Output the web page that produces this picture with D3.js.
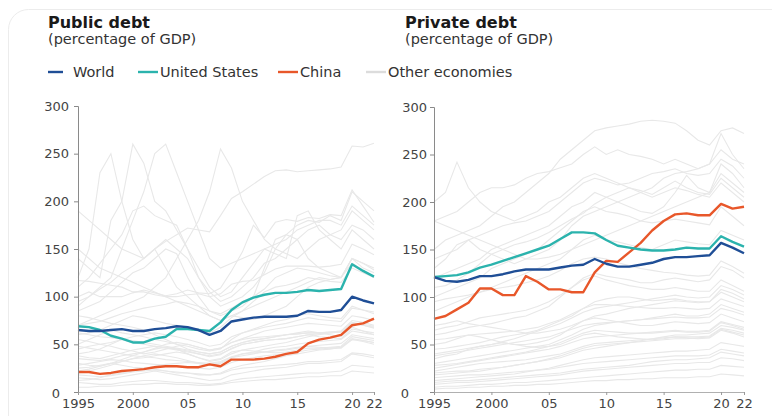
<!DOCTYPE html>
<html><head><meta charset="utf-8">
<script src="https://cdn.jsdelivr.net/npm/d3@7"></script>
<style>
html,body{margin:0;padding:0;background:#fff;}
svg{display:block;font-family:"DejaVu Sans",sans-serif;}
</style></head>
<body><svg id="c" width="772" height="416"></svg>
<script>
const years = [1995,1996,1997,1998,1999,2000,2001,2002,2003,2004,2005,2006,2007,2008,2009,2010,2011,2012,2013,2014,2015,2016,2017,2018,2019,2020,2021,2022];
const xTickYears = [1995,2000,2005,2010,2015,2020,2022];
const xTickLabels = ["1995","2000","05","10","15","20","22"];
const yTicks = [0,50,100,150,200,250,300];

const publicWorld = [65,64,64,65,66,64,64,66,67,69,68,65,60,64,74,76,78,79,79,79,80,85,84,84,86,100,96,93];
const publicUS    = [69,68,65,59,56,52,52,56,58,66,66,65,64,73,86,94,99,102,104,104,105,107,106,107,108,134,127,121];
const publicChina = [21,21,19,20,22,23,24,26,27,27,26,26,29,27,34,34,34,35,37,40,42,51,55,57,60,70,72,77];

const privateWorld = [121,117,116,118,122,122,124,127,129,129,129,131,133,134,140,135,132,132,134,136,140,142,142,143,144,157,152,146];
const privateUS    = [121,122,123,126,131,134,138,142,146,150,154,161,168,168,167,160,154,152,150,149,149,150,152,151,151,164,158,153];
const privateChina = [77,80,87,94,109,109,102,102,122,116,108,108,105,105,126,138,137,147,157,170,180,187,188,186,186,198,193,195];

const publicOthers = [
 [95,100,108,115,125,132,140,150,158,165,172,170,168,185,203,210,218,226,232,233,231,232,233,234,236,258,257,261],
 [120,150,230,250,200,160,140,150,130,110,100,90,80,75,80,85,90,95,100,105,110,115,120,118,120,140,130,125],
 [140,130,120,180,200,260,240,200,190,170,150,120,100,90,95,100,110,125,150,165,175,180,178,185,180,210,200,190],
 [90,100,110,120,150,180,210,250,260,230,200,170,140,130,135,140,145,150,155,160,170,175,180,180,175,195,185,175],
 [70,75,80,85,90,95,100,110,120,140,160,180,210,255,235,200,180,160,150,145,140,150,160,165,170,190,180,170],
 [100,105,100,100,100,104,107,104,101,103,107,104,103,109,127,147,175,162,178,181,179,183,182,186,185,212,195,178],
 [117,116,114,112,110,105,105,102,100,100,102,103,100,103,113,116,117,123,129,132,132,132,131,132,134,155,150,144],
 [60,62,65,70,75,80,78,75,72,70,68,65,62,68,78,85,95,105,110,112,115,120,118,116,115,130,125,120],
 [45,48,50,52,55,58,60,62,60,58,55,52,48,50,58,62,65,68,70,72,75,78,76,75,74,88,86,84],
 [30,28,27,30,32,35,36,38,40,42,40,36,32,34,40,44,46,48,50,52,55,58,60,62,63,72,70,68],
 [15,14,13,14,16,18,20,22,20,18,16,14,12,13,18,20,22,24,25,26,28,30,30,31,32,40,38,36],
 [80,78,75,72,70,68,65,60,55,50,45,42,40,42,48,52,55,56,58,60,62,64,62,60,58,68,64,60],
 [150,140,130,125,120,115,110,105,100,95,90,85,80,75,80,78,76,80,85,90,100,110,115,118,120,135,128,120],
 [110,120,135,150,165,190,195,185,180,175,150,130,110,100,105,120,135,150,145,140,185,190,170,160,150,170,160,150],
 [40,42,45,50,55,52,50,48,46,44,42,40,38,40,45,50,52,54,55,56,58,60,58,57,56,66,64,62],
 [55,53,50,48,45,43,40,42,45,48,50,47,44,46,52,56,60,64,66,68,70,72,71,70,69,80,78,75],
 [25,26,28,30,28,26,25,24,22,20,20,18,18,20,25,28,30,32,35,38,40,42,44,45,47,55,54,52],
 [70,72,74,78,82,85,88,90,92,95,93,90,85,82,88,95,100,108,120,125,130,128,125,122,120,140,135,130],
 [35,34,33,35,38,40,42,45,47,45,40,36,33,35,42,44,43,42,41,42,44,46,46,47,48,58,56,54],
 [10,9,8,8,10,11,12,12,11,10,10,9,8,9,12,14,15,16,17,18,19,20,20,21,22,28,27,26],
 [85,90,95,105,115,125,130,140,150,145,120,100,85,80,85,90,100,130,160,165,160,140,130,125,120,140,135,128],
 [50,55,60,65,62,60,58,55,53,50,48,45,43,45,55,62,66,70,74,76,80,82,80,78,77,90,86,82],
 [190,180,170,160,150,145,140,150,160,150,140,120,105,95,100,110,120,135,140,150,160,170,175,165,160,175,170,160],
 [20,22,25,28,32,35,38,40,38,36,33,30,28,30,36,40,42,45,47,48,50,52,53,54,55,64,62,60],
 [5,5,6,6,7,8,8,9,9,8,8,7,7,8,10,11,12,13,13,14,15,16,16,17,17,22,21,20],
 [18,17,16,17,19,21,22,23,22,21,20,19,18,19,23,25,26,27,28,29,30,32,32,33,34,41,40,38],
 [28,30,32,34,33,31,30,29,28,27,26,25,24,26,31,34,36,38,39,40,42,44,45,46,47,56,54,52],
 [38,36,35,38,41,44,46,48,47,45,43,40,37,39,46,50,52,54,55,56,58,60,61,62,63,72,70,67],
 [12,13,15,18,20,22,25,27,29,30,31,30,29,31,36,38,40,42,44,45,47,48,49,50,51,60,58,56],
 [48,46,44,42,40,38,37,36,34,33,32,31,30,32,37,40,41,42,43,44,46,48,47,46,46,55,53,50],
 [62,60,58,57,55,54,52,50,48,46,44,42,40,42,48,52,54,56,58,60,61,62,62,63,64,75,73,70],
 [22,24,27,30,34,38,42,46,50,52,50,47,44,46,52,55,57,58,59,60,61,62,62,63,64,73,71,69]
];

const privateOthers = [
 [150,160,165,170,175,185,195,200,210,220,230,245,255,265,275,278,280,282,285,286,285,283,275,265,260,275,278,272],
 [200,210,242,215,200,190,185,180,185,190,200,205,215,225,230,225,220,215,210,205,210,215,212,208,205,220,210,200],
 [180,185,190,200,210,215,215,218,225,230,232,236,240,250,258,250,255,250,248,245,240,245,240,235,240,255,245,240],
 [140,145,150,160,165,170,175,178,180,185,190,200,210,220,225,222,218,220,225,230,232,235,230,228,230,245,238,225],
 [120,125,130,135,140,150,155,160,165,170,175,185,195,200,210,205,200,195,190,188,195,210,228,215,210,240,230,215],
 [100,105,110,115,120,130,135,140,145,150,160,170,180,190,195,190,188,185,180,178,180,182,180,178,176,195,185,175],
 [180,175,170,165,160,155,150,145,140,140,142,145,150,155,160,165,170,175,180,185,190,195,200,205,210,230,220,210],
 [85,90,95,100,105,110,115,120,125,130,135,140,150,160,165,160,158,155,152,150,155,160,158,156,155,170,165,160],
 [60,62,65,68,70,72,75,78,80,85,90,100,110,120,125,122,120,118,115,115,118,120,118,116,118,132,128,120],
 [45,46,48,50,52,55,58,60,62,65,70,75,80,88,95,98,100,100,98,96,97,98,96,95,95,108,104,98],
 [30,32,34,36,38,40,42,44,46,48,50,55,60,66,70,72,74,75,76,78,80,82,80,80,82,92,88,84],
 [20,21,22,22,24,25,26,28,30,32,34,36,40,44,46,48,50,52,54,56,58,60,60,61,62,70,68,65],
 [10,11,12,12,13,14,15,16,17,18,19,20,22,24,25,26,27,28,30,32,33,34,34,35,36,42,40,38],
 [70,72,75,72,70,68,66,64,62,62,64,66,70,75,80,82,85,88,90,92,94,96,95,94,95,105,100,95],
 [35,38,40,45,48,50,52,50,48,47,48,50,55,60,62,60,58,57,56,55,56,58,57,56,57,65,62,58],
 [130,140,155,160,150,145,140,135,140,145,150,160,175,185,190,195,200,205,210,215,225,230,232,235,240,272,250,235],
 [95,98,100,102,105,108,110,112,115,118,122,128,135,140,142,140,136,133,130,128,126,125,123,122,123,138,132,125],
 [5,6,6,7,8,8,9,10,10,11,12,13,14,15,16,17,18,19,20,21,22,23,23,24,24,28,27,26],
 [50,52,56,60,58,55,52,50,50,52,55,60,68,75,78,76,74,72,70,70,72,74,73,72,73,82,78,74],
 [110,112,118,125,135,145,150,155,158,162,168,175,182,188,198,205,210,215,212,208,215,222,215,210,208,225,215,205],
 [40,42,44,46,48,50,53,56,60,64,68,72,78,84,88,90,92,94,96,98,100,102,100,99,100,112,108,102],
 [25,27,29,31,33,35,37,39,41,43,45,48,52,56,58,59,60,61,62,63,64,65,64,64,65,74,71,68],
 [15,16,17,18,18,19,20,21,22,23,24,26,28,30,31,32,33,34,35,36,37,38,38,38,39,45,43,41],
 [65,68,70,74,78,80,82,84,86,90,95,102,110,118,122,118,115,112,110,108,108,110,108,106,106,118,112,106],
 [8,9,10,10,11,12,13,14,15,16,17,18,20,22,23,24,25,26,27,28,29,30,30,31,31,36,35,33],
 [12,13,14,15,16,17,18,19,21,23,25,28,31,34,36,37,38,39,40,41,42,43,43,44,45,52,50,48],
 [18,19,20,21,22,24,26,28,30,32,35,38,42,46,49,50,51,52,53,54,55,56,56,57,58,66,63,60],
 [28,29,30,32,34,36,38,40,42,45,48,52,57,62,65,64,63,62,62,62,63,64,63,63,64,73,70,66],
 [55,56,58,60,61,62,63,64,66,68,72,76,82,88,92,92,91,90,89,88,88,89,88,87,88,98,94,90],
 [3,4,4,5,5,6,6,7,7,8,8,9,10,11,12,12,13,13,14,14,15,15,15,16,16,19,18,17],
 [38,40,42,44,46,48,50,52,54,56,58,62,66,70,72,73,74,75,76,77,78,79,78,78,79,88,85,81],
 [22,24,26,28,30,31,32,33,34,36,38,40,44,48,51,52,53,54,55,56,57,58,58,58,59,67,65,62]
];

const legendItems = [
 {label:"World", color:"#1f4e96"},
 {label:"United States", color:"#2bb3ad"},
 {label:"China", color:"#e8572a"},
 {label:"Other economies", color:"#dcdcdc"}
];

const svg = d3.select("#c");

// card outline
svg.append("rect").attr("x",8.5).attr("y",9.5).attr("width",800).attr("height",430)
  .attr("rx",20).attr("fill","none").attr("stroke","#ececec");

function panel(cfg){
  const g = svg.append("g");
  const x = d3.scaleLinear().domain([1995,2022]).range([cfg.x0,cfg.x1]);
  const y = d3.scaleLinear().domain([0,300]).range([392,cfg.yTop]);

  g.append("text").attr("x",cfg.tx).attr("y",28).attr("font-size",16).attr("font-weight",700)
    .attr("fill","#1a1a1a").text(cfg.title);
  g.append("text").attr("x",cfg.tx).attr("y",44).attr("font-size",14.5)
    .attr("fill","#333").text("(percentage of GDP)");

  const line = d3.line().x((d,i)=>x(years[i])).y(d=>y(d));

  cfg.others.forEach(s=>{
    g.append("path").attr("d",line(s)).attr("fill","none").attr("stroke","#e8e8e8").attr("stroke-width",1.1);
  });
  [[cfg.china,"#e8572a"],[cfg.us,"#2bb3ad"],[cfg.world,"#1f4e96"]].forEach(([s,c])=>{
    g.append("path").attr("d",line(s)).attr("fill","none").attr("stroke",c)
      .attr("stroke-width",2.4).attr("stroke-linejoin","round");
  });

  // y axis
  const ya = g.append("g").attr("transform",`translate(${cfg.x0},0)`)
    .call(d3.axisLeft(y).tickValues(yTicks).tickSize(4).tickPadding(cfg.pad));
  ya.select(".domain").attr("stroke","#8a8a8a");
  ya.selectAll(".tick line").attr("stroke","#8a8a8a");
  ya.selectAll(".tick text").attr("font-size",13).attr("fill","#444")
    .attr("font-family","'DejaVu Sans',sans-serif")
    .attr("dx",d=> d===0 ? cfg.zeroDx : 0).attr("dy",d=> d===0 ? "0.4em" : "0.32em");

  // x axis
  const xa = g.append("g").attr("transform","translate(0,392)")
    .call(d3.axisBottom(x).tickValues(xTickYears).tickSize(3).tickPadding(4)
      .tickFormat((d,i)=>xTickLabels[i]));
  xa.select(".domain").attr("stroke","#b0b0b0");
  xa.selectAll(".tick line").attr("stroke","#999");
  xa.selectAll(".tick text").attr("font-size",13).attr("fill","#444")
    .attr("font-family","'DejaVu Sans',sans-serif");
}

panel({title:"Public debt", tx:48, x0:78, x1:374, yTop:106, pad:5, zeroDx:-9,
  others:publicOthers, world:publicWorld, us:publicUS, china:publicChina});
panel({title:"Private debt", tx:405, x0:434, x1:744, yTop:107, pad:3, zeroDx:-18,
  others:privateOthers, world:privateWorld, us:privateUS, china:privateChina});

// legend
const legX = [48,138,278,366];
const lg = svg.append("g").attr("transform","translate(0,72)");
legendItems.forEach((d,i)=>{
  const gi = lg.append("g").attr("transform",`translate(${legX[i]},0)`);
  gi.append("line").attr("x1",0).attr("x2",i===0?15:20).attr("y1",0).attr("y2",0)
    .attr("stroke",d.color).attr("stroke-width",2.4);
  gi.append("text").attr("x",i===0?25:22).attr("y",5).attr("font-size",14.5).attr("fill","#333").text(d.label);
});
</script></body></html>
